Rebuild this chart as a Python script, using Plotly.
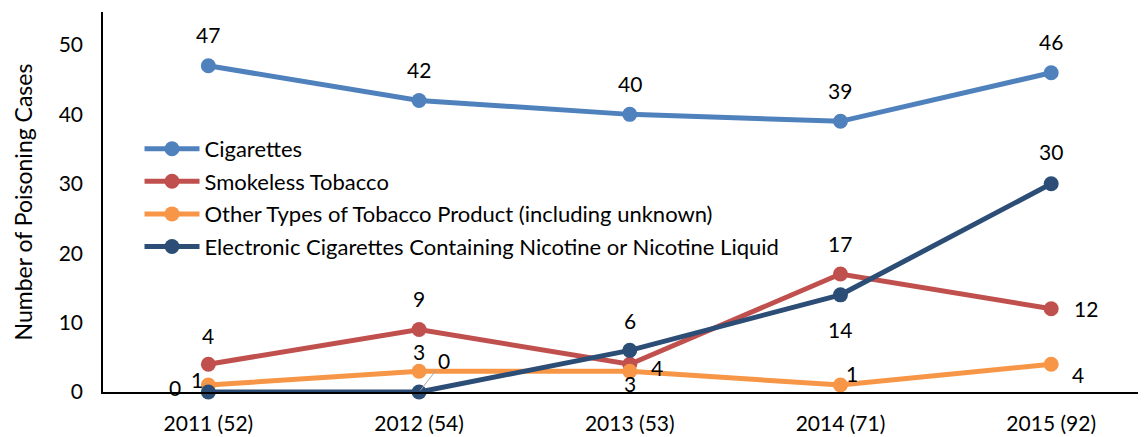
import plotly.graph_objects as go

categories = ["2011 (52)", "2012 (54)", "2013 (53)", "2014 (71)", "2015 (92)"]
series_names = [
    "Cigarettes",
    "Smokeless Tobacco",
    "Other Types of Tobacco Product (including unknown)",
    "Electronic Cigarettes Containing Nicotine or Nicotine Liquid",
]
cigarettes = [47, 42, 40, 39, 46]
smokeless = [4, 9, 4, 17, 12]
other = [1, 3, 3, 1, 4]
ecig = [0, 0, 6, 14, 30]
colors = ["#4F81BD", "#C0504D", "#F79646", "#2C4D75"]

# label offsets (px) per series per point: (xshift, yshift)
label_offsets = [
    [(0, 31), (0, 31), (0, 31), (0, 31), (0, 31)],
    [(0, 29), (0, 31), (27, -3), (0, 31), (35, 0)],
    [(-11, 6), (0, 20), (0, -12), (12, 12), (27, -10)],
    [(-33, 5), (25, 32), (0, 30), (0, -35), (0, 32)],
]
# labels drawn with a leader line: (series index, point index)
leader_labels = {(2, 0), (3, 1)}

FONT = "Lato"
LABEL_SIZE = 21
all_series = [cigarettes, smokeless, other, ecig]

fig = go.Figure()
for i, (name, vals) in enumerate(zip(series_names, all_series)):
    fig.add_trace(go.Scatter(
        x=categories, y=vals, name=name, mode="lines+markers",
        line=dict(color=colors[i], width=5),
        marker=dict(color=colors[i], size=15),
        legendgroup=f"g{i}",
        cliponaxis=False,
    ))

annotations = []
for i, vals in enumerate(all_series):
    for j, v in enumerate(vals):
        dx, dy = label_offsets[i][j]
        if (i, j) in leader_labels:
            annotations.append(dict(
                x=categories[j], y=v, text=str(v), showarrow=True,
                arrowhead=0, arrowwidth=1, arrowcolor="#A6A6A6",
                ax=dx, ay=-dy, standoff=2,
                font=dict(family=FONT, size=LABEL_SIZE, color="#000000"),
            ))
        else:
            annotations.append(dict(
                x=categories[j], y=v, text=str(v), showarrow=False,
                xshift=dx, yshift=dy,
                font=dict(family=FONT, size=LABEL_SIZE, color="#000000"),
            ))

fig.update_layout(
    width=1138, height=429,
    margin=dict(l=95, r=0, t=4, b=45),
    paper_bgcolor="white", plot_bgcolor="white",
    font=dict(family=FONT, size=21, color="#000000"),
    showlegend=True,
    legend=dict(
        x=0.035, y=0.695, xanchor="left", yanchor="top",
        bgcolor="rgba(0,0,0,0)", font=dict(family=FONT, size=22, color="#000000"),
        itemwidth=55, tracegroupgap=1, traceorder="grouped",
    ),
    annotations=annotations,
    xaxis=dict(
        range=[-0.5, 4.45], showline=True, linecolor="#000000", linewidth=1.5,
        showgrid=False, zeroline=False, ticks="outside", ticklen=12,
        tickcolor="rgba(0,0,0,0)", tickfont=dict(family=FONT, size=21, color="#000000"),
    ),
    yaxis=dict(
        range=[0, 54.75], showline=True, linecolor="#000000", linewidth=1.5,
        showgrid=False, zeroline=False, tickvals=[0, 10, 20, 30, 40, 50],
        ticks="", ticklabelstandoff=14,
        tickfont=dict(family=FONT, size=21, color="#000000"),
        title=dict(text="Number of Poisoning Cases", standoff=20,
                   font=dict(family=FONT, size=23, color="#000000")),
    ),
)

fig.write_html("out.html")
